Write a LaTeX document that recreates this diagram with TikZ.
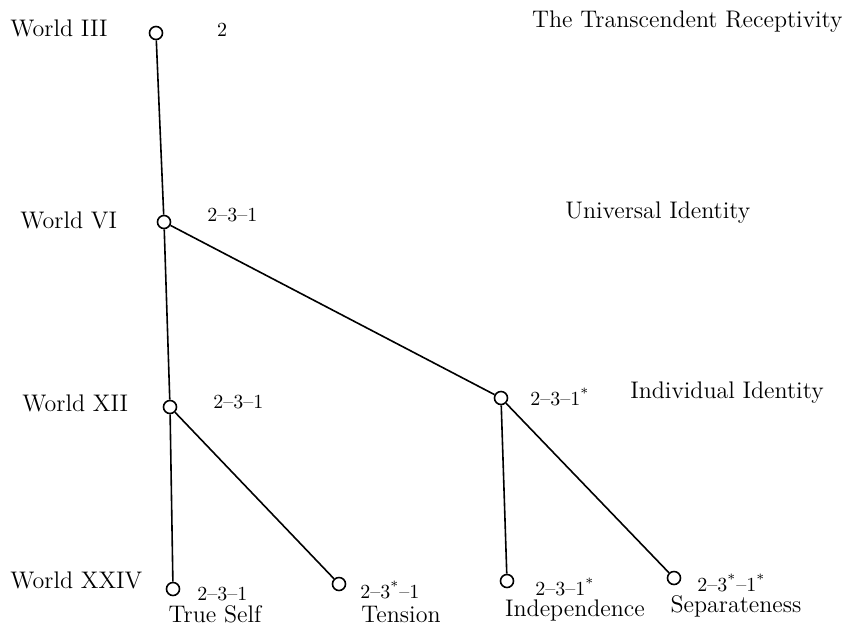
\documentclass[tikz,border=0pt]{standalone}
\usepackage{tikz}
\usetikzlibrary{positioning}
\begin{document}
\begin{tikzpicture}[x=0.5pt,y=-0.5pt,
    world/.style={circle, draw, line width=0.8pt, minimum size=6.5pt, inner sep=0pt, fill=white},
    wlabel/.style={font=\large, inner sep=0pt},
    code/.style={font=\normalsize, inner sep=0pt},
    link/.style={line width=0.8pt}]
        \useasboundingbox (0,0) rectangle (845,629);

        % Worlds (points of the tree)
        \node[world] (w3) at (156,33) {};
        \node[world] (w6) at (164,222) {};
        \node[world] (w12) at (170,407) {};
        \node[world] (indiv) at (501,398) {};
        \node[world] (self) at (173,589) {};
        \node[world] (tens) at (339,584) {};
        \node[world] (indep) at (507,581) {};
        \node[world] (sep) at (674,578) {};

        % Branches
        \draw[link] (w3) -- (w6);
        \draw[link] (w6) -- (w12);
        \draw[link] (w6) -- (indiv);
        \draw[link] (w12) -- (self);
        \draw[link] (w12) -- (tens);
        \draw[link] (indiv) -- (indep);
        \draw[link] (indiv) -- (sep);

        % World names on the left
        \node[wlabel, anchor=west] (n3) at (10,28) {World III};
        \node[wlabel, anchor=west] (n6) at (20,220) {World VI};
        \node[wlabel, anchor=west] (n12) at (22,403) {World XII};
        \node[wlabel, anchor=west] (n24) at (10,580) {World XXIV};

        % Codes
        \node[code] (c3) at (222,30) {2};
        \node[code, anchor=west] (c6) at (207,215) {2--3--1};
        \node[code, anchor=west] (c12) at (213,402) {2--3--1};
        \node[code, anchor=west] (cind) at (530,397) {2--3--1\textsuperscript{*}};
        \node[code, anchor=west] (cself) at (197,594) {2--3--1};
        \node[code, anchor=west] (ctens) at (360,590) {2--3\textsuperscript{*}--1};
        \node[code, anchor=west] (cindep) at (535,587) {2--3--1\textsuperscript{*}};
        \node[code, anchor=west] (csep) at (697,583) {2--3\textsuperscript{*}--1\textsuperscript{*}};

        % Meanings
        \node[wlabel, anchor=east] (m3) at (843,22) {The Transcendent Receptivity};
        \node[wlabel, anchor=west] (m6) at (565,213) {Universal Identity};
        \node[wlabel, anchor=west] (mind) at (630,393) {Individual Identity};
        \node[wlabel] (mself) at (215,614) {True Self};
        \node[wlabel] (mtens) at (401,614) {Tension};
        \node[wlabel] (mindep) at (575,610) {Independence};
        \node[wlabel] (msep) at (736,606) {Separateness};
    \end{tikzpicture}
\end{document}
